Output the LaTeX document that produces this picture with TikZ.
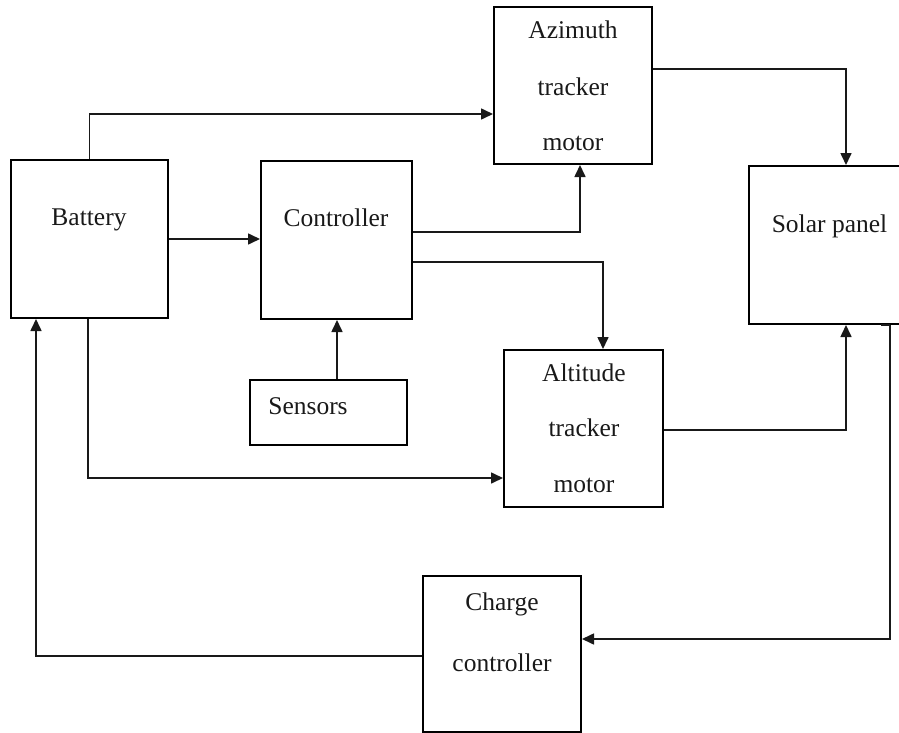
\documentclass[tikz,border=0pt]{standalone}
\usepackage{fontspec}
\setmainfont{Liberation Serif}
\usetikzlibrary{arrows.meta}
\begin{document}
\begin{tikzpicture}[x=1pt,y=-1pt,
  box/.style={draw=black,line width=2pt,rectangle,inner sep=0pt},
  lbl/.style={anchor=base,inner sep=0pt,font=\fontsize{25.5}{30}\selectfont,text=black!90},
  conn/.style={draw=black!90,line width=1.6pt},
  arr/.style={conn,-{Triangle[length=12pt,width=11pt]}}]
\useasboundingbox (0,0) rectangle (899,733);
% boxes
\node[box,minimum width=157pt,minimum height=158pt] (bat) at (89.5,239) {};
\node[box,minimum width=151pt,minimum height=158pt] (ctrl) at (336.5,240) {};
\node[box,minimum width=158pt,minimum height=157pt] (az) at (573,85.5) {};
\node[box,minimum width=160pt,minimum height=158pt] (sol) at (829,245) {};
\node[box,line width=1.6pt,minimum width=157pt,minimum height=65pt] (sens) at (328.5,412.5) {};
\node[box,minimum width=159pt,minimum height=157pt] (al) at (583.5,428.5) {};
\node[box,minimum width=158pt,minimum height=156pt] (ch) at (502,654) {};
% labels
\node[lbl] (tbat) at (89,225) {Battery};
\node[lbl] (tctrl) at (336,226) {Controller};
\node[lbl] (taz1) at (573,39) {Azimuth};
\node[lbl] (taz2) at (573,96) {tracker};
\node[lbl] (taz3) at (573,150) {motor};
\node[lbl] (tsol) at (829.5,232) {Solar panel};
\node[lbl] (tsens) at (308,414) {Sensors};
\node[lbl] (tal1) at (584,381) {Altitude};
\node[lbl] (tal2) at (584,436) {tracker};
\node[lbl] (tal3) at (584,492) {motor};
\node[lbl] (tch1) at (502,610) {Charge};
\node[lbl] (tch2) at (502,671) {controller};
% connectors
\draw[arr] (bat.north) |- (az.west |- 0,114);
\draw[arr] (bat.east |- 0,239) -- (ctrl.west |- 0,239);
\draw[arr] (ctrl.east |- 0,232) -| (az.south -| 580,0);
\draw[arr] (ctrl.east |- 0,262) -| (al.north -| 603,0);
\draw[arr] (az.east |- 0,69) -| (sol.north -| 846,0);
\draw[arr] (al.east |- 0,430) -| (sol.south -| 846,0);
\draw[arr] (sens.north -| 337,0) -- (ctrl.south -| 337,0);
\draw[arr] (bat.south -| 88,0) |- (al.west |- 0,478);
\draw[conn,line width=2.4pt] (sol.south -| 881,0) -- (sol.south -| 890,0);
\draw[arr] (sol.south -| 890,0) |- (ch.east |- 0,639);
\draw[arr] (ch.west |- 0,656) -| (bat.south -| 36,0);
\end{tikzpicture}
\end{document}
